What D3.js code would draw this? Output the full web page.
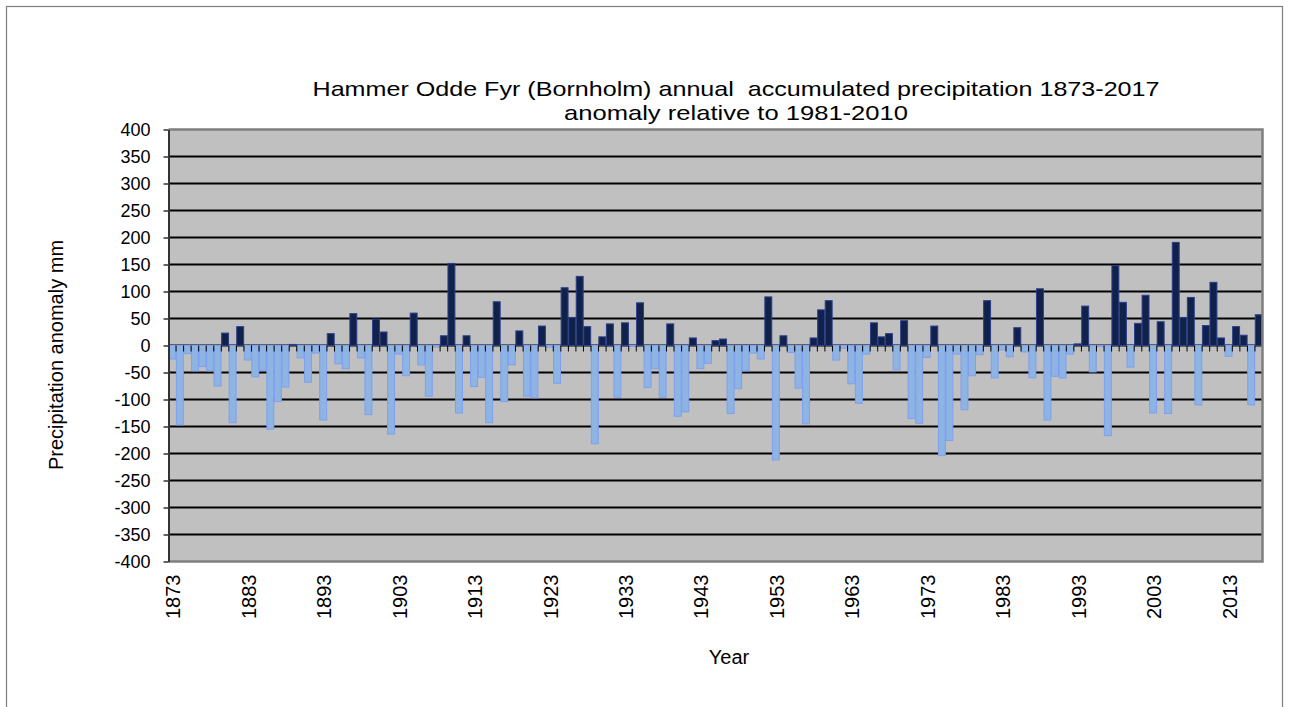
<!DOCTYPE html>
<meta charset="utf-8">
<style>
body { margin: 0; background: #fff; }
text { font-family: "Liberation Sans", Arial, sans-serif; fill: #000; }
</style>
<body>
<svg id="chart" width="1290" height="707"></svg>
<script src="https://d3js.org/d3.v7.min.js"></script>
<script>
// annual precipitation anomaly (mm) relative to 1981-2010
var firstYear = 1873
var lastYear = 2017
var anomaly = [
  -25, -147, -15, -47, -39, -47, -75, 23, -143, 35,      // 1873-1882
  -27, -58, -46, -155, -104, -77, 2, -23, -68, -14,      // 1883-1892
  -138, 22, -34, -43, 59, -23, -128, 49, 25, -164,       // 1893-1902
  -16, -56, 60, -36, -94, -3, 18, 152, -125, 18,         // 1903-1912
  -76, -59, -143, 81, -104, -36, 27, -94, -97, 36,       // 1913-1922
  -3, -70, 107, 52, 128, 35, -182, 16, 40, -96,          // 1923-1932
  42, -2, 79, -78, -43, -96, 40, -131, -123, 14,         // 1933-1942
  -43, -33, 9, 12, -126, -80, -47, -14, -25, 90,         // 1943-1952
  -212, 18, -13, -79, -145, 14, 66, 83, -27, -5,         // 1953-1962
  -71, -107, -16, 42, 16, 22, -45, 46, -135, -144,       // 1963-1972
  -22, 36, -204, -176, -16, -119, -56, -17, 83, -60,     // 1973-1982
  -8, -21, 33, -12, -60, 105, -138, -57, -60, -16,       // 1983-1992
  3, 73, -49, -2, -167, 148, 80, -40, 41, 93,            // 1993-2002
  -125, 44, -126, 191, 52, 89, -110, 37, 117, 14,        // 2003-2012
  -20, 35, 19, -110, 57                                  // 2013-2017
]
var years = d3.range(firstYear, lastYear + 1)
var yTicks = d3.range(-400, 401, 50)
var labelYears = d3.range(firstYear, lastYear + 1, 10)

var titleLines = ["Hammer Odde Fyr (Bornholm) annual  accumulated precipitation 1873-2017",
                  "anomaly relative to 1981-2010"]
var titleWidths = [847, 344]

var data = years.map(function(y, i) { return {year: y, value: anomaly[i]} })

var margin = {top: 129.5, left: 168.5, right: 27.5, bottom: 145.5}
var width = 1290 - margin.left - margin.right
var height = 707 - margin.top - margin.bottom

var svg = d3.select("#chart")

// outer chart frame (runs off the bottom of the picture)
svg.append("rect")
   .attr("x", 6.5).attr("y", 6.5)
   .attr("width", 1276).attr("height", 740)
   .attr("fill", "#fff")
   .attr("stroke", "#7f7f7f").attr("stroke-width", 1.2)

var g = svg.append("g").attr("transform", "translate(" + margin.left + "," + margin.top + ")")

var x = d3.scaleBand().domain(years).range([0, width]).paddingInner(0.08).paddingOuter(0.04)
var xc = d3.scaleBand().domain(years).range([0, width])
var y = d3.scaleLinear().domain([-400, 400]).range([height, 0])

g.append("rect")
 .attr("width", width).attr("height", height)
 .attr("fill", "#c0c0c0")

// horizontal gridlines
g.selectAll(".grid").data(yTicks.filter(function(d) { return d > -400 && d < 400 }))
 .enter().append("line")
 .attr("x1", 0).attr("x2", width)
 .attr("y1", function(d) { return y(d) }).attr("y2", function(d) { return y(d) })
 .attr("stroke", "#000").attr("stroke-width", 2)

// bars
g.selectAll(".bar").data(data)
 .enter().append("rect")
 .attr("x", function(d) { return x(d.year) })
 .attr("width", x.bandwidth())
 .attr("y", function(d) { return d.value >= 0 ? y(d.value) : y(0) })
 .attr("height", function(d) { return Math.abs(y(d.value) - y(0)) })
 .attr("fill", function(d) { return d.value >= 0 ? "#11224a" : "#8db4e2" })
 .attr("stroke", function(d) { return d.value >= 0 ? "#2d3f8c" : "#7f9ff0" })
 .attr("stroke-width", 1)

// category ticks hanging below the zero line
g.selectAll(".ctick").data(years.slice(1))
 .enter().append("line")
 .attr("x1", function(d) { return xc(d) }).attr("x2", function(d) { return xc(d) })
 .attr("y1", y(0)).attr("y2", y(0) + 6)
 .attr("stroke", "#000").attr("stroke-width", 1)

// plot border: grey top/right/bottom, dark left axis
g.append("path")
 .attr("d", "M0,0H" + width + "V" + height + "H0")
 .attr("fill", "none").attr("stroke", "#7f7f7f").attr("stroke-width", 2.5)

var yAxis = g.append("g")
  .call(d3.axisLeft(y).tickValues(yTicks).tickFormat(function(d) { return String(d) })
          .tickSize(5).tickPadding(13).tickSizeOuter(0))
yAxis.select(".domain").attr("stroke", "#333").attr("stroke-width", 2)
yAxis.selectAll(".tick line").attr("stroke", "#333").attr("stroke-width", 1.5)
yAxis.selectAll("text").style("font-size", "18px").attr("fill", "#000")
     .style("font-family", "'Liberation Sans', Arial, sans-serif")

// year labels every ten years
g.selectAll(".xlab").data(labelYears)
 .enter().append("text")
 .attr("transform", function(d) {
   return "translate(" + (xc(d) + xc.bandwidth() / 2 + 1) + "," + (height + 13) + ") rotate(-90)"
 })
 .attr("text-anchor", "end")
 .attr("dy", "0.35em")
 .style("font-size", "20px")
 .text(function(d) { return d })

// titles
svg.selectAll(".title").data(titleLines)
 .enter().append("text")
 .attr("x", 736).attr("y", function(d, i) { return 96 + i * 24 })
 .attr("text-anchor", "middle")
 .attr("textLength", function(d, i) { return titleWidths[i] })
 .attr("lengthAdjust", "spacingAndGlyphs")
 .style("font-size", "21px")
 .style("white-space", "pre")
 .text(function(d) { return d })

svg.append("text")
   .attr("x", 729).attr("y", 664)
   .attr("text-anchor", "middle")
   .style("font-size", "20px")
   .text("Year")

svg.append("text")
   .attr("transform", "translate(63,355) rotate(-90)")
   .attr("text-anchor", "middle")
   .style("font-size", "20px")
   .text("Precipitation anomaly mm")
</script>
</body>
